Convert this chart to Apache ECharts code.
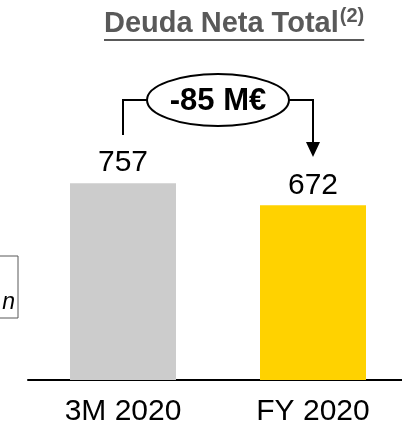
<!DOCTYPE html>
<html>
<head>
<meta charset="utf-8">
<script src="https://cdn.jsdelivr.net/npm/echarts@6/dist/echarts.min.js"></script>
<style>
html,body{margin:0;padding:0;background:#fff;}
#chart{width:402px;height:426px;}
</style>
</head>
<body>
<div id="chart"></div>
<script>
const categories = ['3M 2020', 'FY 2020'];
const values = [757, 672];
const barColors = ['#CCCCCC', '#FFD200'];
const titleText = 'Deuda Neta Total';
const titleNote = '(2)';
const changeLabel = '-85 M€';
const sideText = 'n';

const FONT = '"Liberation Sans", Arial, Helvetica, sans-serif';
const chart = echarts.init(document.getElementById('chart'), null, {renderer: 'canvas'});

const option = {
  animation: false,
  backgroundColor: '#ffffff',
  grid: {left: 28, width: 380, top: 120, bottom: 46, containLabel: false, outerBoundsMode: 'none'},
  xAxis: {
    type: 'category',
    data: categories,
    axisLine: {show: true, lineStyle: {color: '#000000', width: 2}},
    axisTick: {show: false},
    axisLabel: {color: '#000000', fontSize: 30, fontFamily: FONT, margin: 17}
  },
  yAxis: {
    type: 'value', min: 0, max: 1000,
    show: false, splitLine: {show: false}
  },
  series: [{
    type: 'bar',
    barWidth: 106,
    data: values.map((v, i) => ({value: v, itemStyle: {color: barColors[i]}})),
    label: {
      show: true, position: 'top', distance: 5,
      color: '#000000', fontSize: 30, fontFamily: FONT
    }
  }]
};
chart.setOption(option);

const p0 = chart.convertToPixel({seriesIndex: 0}, [0, values[0]]);
const p1 = chart.convertToPixel({seriesIndex: 0}, [1, values[1]]);
const x0 = p0[0], x1 = p1[0];
const cx = (x0 + x1) / 2;
const lineY = 100;
const rx = 71, ry = 26;

const titleFont = 'bold 29px ' + FONT;
const titleLeft = 104;
const titleW = echarts.format.getTextRect ? echarts.format.getTextRect(titleText, titleFont).width : 237;
const noteFont = 'bold 20px ' + FONT;
const noteW = echarts.format.getTextRect ? echarts.format.getTextRect(titleNote, noteFont).width : 24;
const titleRight = titleLeft + titleW + 1 + noteW;

chart.setOption({
  graphic: [
    // Title
    {type: 'text', left: titleLeft, top: 9, style: {text: titleText, fill: '#595959', font: titleFont}},
    {type: 'text', left: titleLeft + titleW + 1, top: 6, style: {text: titleNote, fill: '#595959', font: noteFont}},
    {type: 'line', shape: {x1: titleLeft, y1: 40, x2: titleRight, y2: 40}, style: {stroke: '#595959', lineWidth: 2}},
    // Bracket
    {type: 'polyline', shape: {points: [[x0, 135], [x0, lineY], [cx - rx, lineY]]}, style: {stroke: '#000', lineWidth: 2, fill: null}},
    {type: 'polyline', shape: {points: [[cx + rx, lineY], [x1, lineY], [x1, 144]]}, style: {stroke: '#000', lineWidth: 2, fill: null}},
    {type: 'polygon', shape: {points: [[x1 - 7, 142], [x1 + 7, 142], [x1, 157]]}, style: {fill: '#000'}},
    {type: 'ellipse', shape: {cx: cx, cy: lineY, rx: rx, ry: ry}, style: {fill: '#fff', stroke: '#000', lineWidth: 2}},
    {type: 'text', x: cx, y: lineY + 1, style: {text: changeLabel, fill: '#000', font: 'bold 31px ' + FONT, align: 'center', verticalAlign: 'middle'}},
    // Left partial box
    {type: 'rect', shape: {x: -20, y: 256, width: 38, height: 62}, style: {fill: null, stroke: '#595959', lineWidth: 1}},
    {type: 'text', x: 15, y: 314, style: {text: sideText, fill: '#000', font: 'italic 23px ' + FONT, align: 'right', verticalAlign: 'bottom'}}
  ]
});
</script>
</body>
</html>
